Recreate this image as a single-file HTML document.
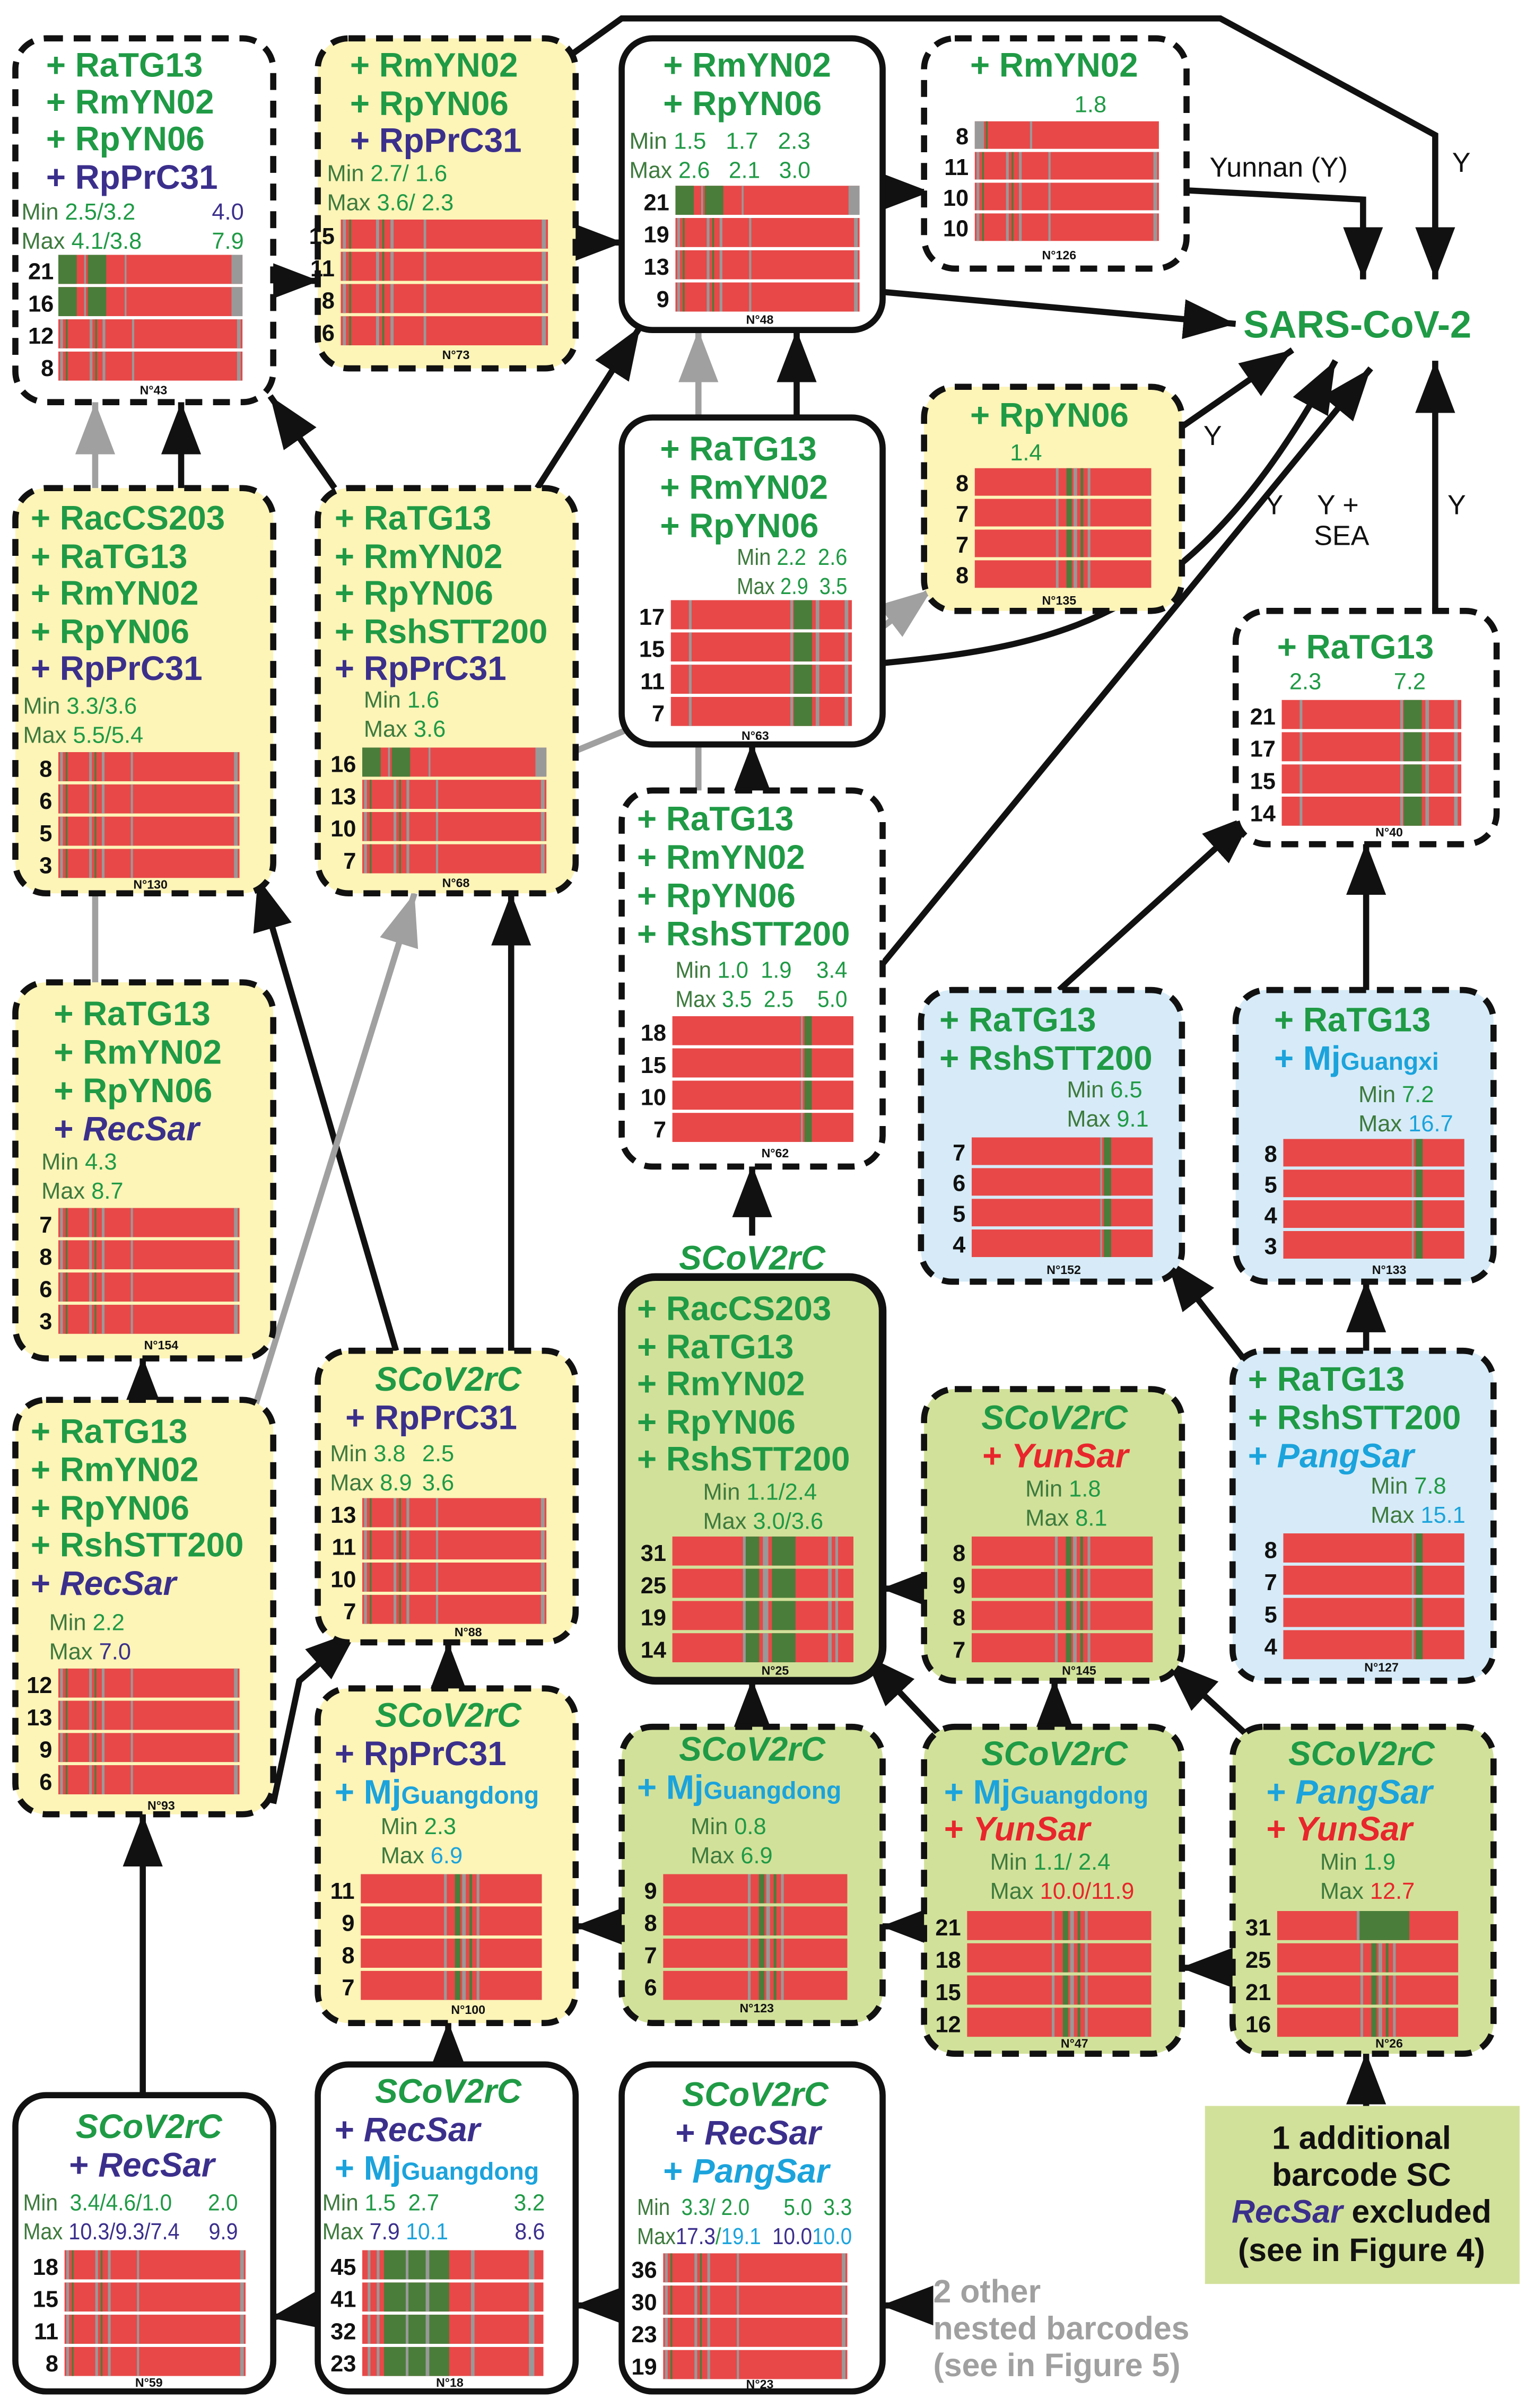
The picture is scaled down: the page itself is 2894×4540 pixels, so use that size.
<!DOCTYPE html>
<html><head><meta charset="utf-8"><style>
html,body{margin:0;padding:0;background:#fff}
svg{display:block}
.t{font-family:"Liberation Sans",sans-serif;font-weight:bold;font-size:22px;fill:#1f9a45}
.sc{font-family:"Liberation Sans",sans-serif;font-weight:bold;font-style:italic;font-size:22px;fill:#1f9a45}
.bl{fill:#3b2f8c}.cy{fill:#1ba3dc}.rd{fill:#e8262b}.it{font-style:italic}
.m{font-family:"Liberation Sans",sans-serif;font-size:15px;fill:#1f9a45}
.mk{fill:#3d7a3d}
.n{font-family:"Liberation Sans",sans-serif;font-weight:bold;font-size:15px;fill:#111;text-anchor:end}
.s{font-family:"Liberation Sans",sans-serif;font-weight:bold;font-size:8px;fill:#111;text-anchor:middle}
.sm{font-size:16px}
.lab{font-family:"Liberation Sans",sans-serif;font-size:18px;fill:#111}
</style></head><body>
<svg width="2894" height="4540" viewBox="0 0 1000 1568.8" xmlns="http://www.w3.org/2000/svg">
<defs>
<marker id="a" markerUnits="userSpaceOnUse" markerWidth="36" markerHeight="28" refX="34" refY="13" orient="auto"><path d="M0,0 L34,13 L0,26 z" fill="#111"/></marker>
<marker id="g" markerUnits="userSpaceOnUse" markerWidth="36" markerHeight="28" refX="34" refY="13" orient="auto"><path d="M0,0 L34,13 L0,26 z" fill="#a0a0a0"/></marker>
<symbol id="bA" viewBox="0 0 100 10" preserveAspectRatio="none"><rect width="100" height="10" fill="#e84848"/><rect x="0" width="10" height="10" fill="#4a7d3a"/><rect x="16" width="10" height="10" fill="#4a7d3a"/><rect x="14" width="1" height="10" fill="#999"/><rect x="36" width="1" height="10" fill="#999"/><rect x="94" width="6" height="10" fill="#999"/></symbol>
<symbol id="bB" viewBox="0 0 100 10" preserveAspectRatio="none"><rect width="100" height="10" fill="#e84848"/><rect x="1" width="1.5" height="10" fill="#999"/><rect x="4" width="1" height="10" fill="#4a7d3a"/><rect x="17" width="1.5" height="10" fill="#999"/><rect x="20" width="1" height="10" fill="#4a7d3a"/><rect x="24" width="1.5" height="10" fill="#999"/><rect x="40" width="1.2" height="10" fill="#999"/><rect x="97" width="2" height="10" fill="#999"/></symbol>
<symbol id="bC" viewBox="0 0 100 10" preserveAspectRatio="none"><rect width="100" height="10" fill="#e84848"/><rect x="40" width="8" height="10" fill="#4a7d3a"/><rect x="39" width="1.5" height="10" fill="#999"/><rect x="50" width="3" height="10" fill="#999"/><rect x="55" width="13" height="10" fill="#4a7d3a"/><rect x="86" width="2" height="10" fill="#999"/><rect x="90" width="1.5" height="10" fill="#999"/></symbol>
<symbol id="bD" viewBox="0 0 100 10" preserveAspectRatio="none"><rect width="100" height="10" fill="#e84848"/><rect x="46" width="1.5" height="10" fill="#999"/><rect x="52" width="3" height="10" fill="#4a7d3a"/><rect x="56" width="2" height="10" fill="#999"/><rect x="60" width="1.5" height="10" fill="#4a7d3a"/><rect x="64" width="1.5" height="10" fill="#999"/></symbol>
<symbol id="bE" viewBox="0 0 100 10" preserveAspectRatio="none"><rect width="100" height="10" fill="#e84848"/><rect x="10" width="1.5" height="10" fill="#999"/><rect x="68" width="10" height="10" fill="#4a7d3a"/><rect x="66" width="1.5" height="10" fill="#999"/><rect x="80" width="2" height="10" fill="#999"/><rect x="96" width="2" height="10" fill="#999"/></symbol>
<symbol id="bF" viewBox="0 0 100 10" preserveAspectRatio="none"><rect width="100" height="10" fill="#e84848"/><rect x="73" width="4" height="10" fill="#4a7d3a"/><rect x="71" width="1" height="10" fill="#999"/></symbol>
<symbol id="bG" viewBox="0 0 100 10" preserveAspectRatio="none"><rect width="100" height="10" fill="#e84848"/><rect x="3" width="1.5" height="10" fill="#999"/><rect x="8" width="1.5" height="10" fill="#999"/><rect x="12" width="36" height="10" fill="#4a7d3a"/><rect x="24" width="1.5" height="10" fill="#999"/><rect x="35" width="2" height="10" fill="#999"/><rect x="60" width="2" height="10" fill="#999"/><rect x="92" width="3" height="10" fill="#999"/></symbol>
<symbol id="bH" viewBox="0 0 100 10" preserveAspectRatio="none"><rect width="100" height="10" fill="#e84848"/><rect x="45" width="28" height="10" fill="#4a7d3a"/><rect x="44" width="1.5" height="10" fill="#999"/></symbol>
<symbol id="bI" viewBox="0 0 100 10" preserveAspectRatio="none"><rect width="100" height="10" fill="#e84848"/><rect x="0" width="5" height="10" fill="#999"/><rect x="6" width="1" height="10" fill="#4a7d3a"/><rect x="30" width="1.2" height="10" fill="#999"/></symbol>
</defs>
<rect width="1000" height="1569" fill="#fff"/>

<!-- connectors -->
<g fill="none" stroke="#111" stroke-width="4">
<line x1="176" y1="183" x2="208" y2="183" marker-end="url(#a)"/>
<line x1="373" y1="158" x2="406" y2="158" marker-end="url(#a)"/>
<line x1="573" y1="125" x2="606" y2="125" marker-end="url(#a)"/>
<line x1="573" y1="190" x2="805" y2="211" marker-end="url(#a)"/>
<polyline points="773,124 888,130 888,182" marker-end="url(#a)"/>
<polyline points="373,35 405,12 795,12 935,88 935,182" marker-end="url(#a)"/>
<line x1="770" y1="278" x2="842" y2="228" marker-end="url(#a)"/>
<path d="M575,432 C700,420 780,400 870,235" marker-end="url(#a)"/>
<line x1="575" y1="628" x2="893" y2="240" marker-end="url(#a)"/>
<line x1="935" y1="398" x2="935" y2="235" marker-end="url(#a)"/>
<line x1="519" y1="272" x2="519" y2="215" marker-end="url(#a)"/>
<line x1="350" y1="318" x2="417" y2="213" marker-end="url(#a)"/>
<line x1="218" y1="318" x2="176" y2="258" marker-end="url(#a)"/>
<line x1="118" y1="318" x2="118" y2="262" marker-end="url(#a)"/>
<line x1="93" y1="912" x2="93" y2="884" marker-end="url(#a)"/>
<line x1="258" y1="880" x2="168" y2="572" marker-end="url(#a)"/>
<line x1="333" y1="880" x2="333" y2="582" marker-end="url(#a)"/>
<line x1="292" y1="1100" x2="292" y2="1070" marker-end="url(#a)"/>
<polyline points="178,1175 195,1095 233,1062" marker-end="url(#a)"/>
<line x1="93" y1="1365" x2="93" y2="1182" marker-end="url(#a)"/>
<line x1="207" y1="1505" x2="176" y2="1510" marker-end="url(#a)"/>
<line x1="405" y1="1502" x2="374" y2="1502" marker-end="url(#a)"/>
<line x1="605" y1="1502" x2="574" y2="1502" marker-end="url(#a)"/>
<line x1="292" y1="1345" x2="292" y2="1317" marker-end="url(#a)"/>
<line x1="405" y1="1255" x2="374" y2="1255" marker-end="url(#a)"/>
<line x1="602" y1="1255" x2="574" y2="1255" marker-end="url(#a)"/>
<line x1="803" y1="1282" x2="769" y2="1282" marker-end="url(#a)"/>
<line x1="890" y1="1372" x2="890" y2="1337" marker-end="url(#a)"/>
<line x1="490" y1="1125" x2="490" y2="1094" marker-end="url(#a)"/>
<line x1="687" y1="1125" x2="687" y2="1094" marker-end="url(#a)"/>
<line x1="612" y1="1130" x2="563" y2="1078" marker-end="url(#a)"/>
<line x1="602" y1="1035" x2="574" y2="1035" marker-end="url(#a)"/>
<line x1="812" y1="1130" x2="760" y2="1082" marker-end="url(#a)"/>
<line x1="810" y1="885" x2="760" y2="820" marker-end="url(#a)"/>
<line x1="890" y1="880" x2="890" y2="834" marker-end="url(#a)"/>
<line x1="490" y1="805" x2="490" y2="759" marker-end="url(#a)"/>
<line x1="690" y1="645" x2="817" y2="530" marker-end="url(#a)"/>
<line x1="890" y1="645" x2="890" y2="549" marker-end="url(#a)"/>
<line x1="490" y1="515" x2="490" y2="484" marker-end="url(#a)"/>
</g>
<g fill="none" stroke="#a0a0a0" stroke-width="4">
<line x1="62" y1="318" x2="62" y2="262" marker-end="url(#g)"/>
<line x1="62" y1="640" x2="62" y2="582"/>
<line x1="373" y1="490" x2="407" y2="476"/>
<line x1="455" y1="272" x2="455" y2="215" marker-end="url(#g)"/>
<line x1="455" y1="485" x2="455" y2="515"/>
<line x1="573" y1="410" x2="607" y2="384" marker-end="url(#g)"/>
<line x1="165" y1="920" x2="270" y2="582" marker-end="url(#g)"/>
</g>
<g class="lab">
<text x="788" y="115">Yunnan (Y)</text>
<text x="946" y="112">Y</text>
<text x="784" y="290">Y</text>
<text x="824" y="335">Y</text>
<text x="858" y="335">Y +</text>
<text x="856" y="355">SEA</text>
<text x="943" y="335">Y</text>
</g>
<text x="810" y="220" class="t" style="font-size:25px">SARS-CoV-2</text>

<!-- nodes -->
<g stroke="#111" stroke-width="4">
<rect x="10" y="25" width="168" height="237" rx="20" fill="#fff" stroke-dasharray="11 7"/>
<rect x="207" y="25" width="168" height="215" rx="20" fill="#fdf4b8" stroke-dasharray="11 7"/>
<rect x="405" y="25" width="170" height="190" rx="20" fill="#fff"/>
<rect x="602" y="25" width="171" height="150" rx="20" fill="#fff" stroke-dasharray="11 7"/>
<rect x="602" y="252" width="168" height="146" rx="20" fill="#fdf4b8" stroke-dasharray="11 7"/>
<rect x="405" y="272" width="170" height="213" rx="20" fill="#fff"/>
<rect x="10" y="318" width="168" height="264" rx="20" fill="#fdf4b8" stroke-dasharray="11 7"/>
<rect x="207" y="318" width="168" height="264" rx="20" fill="#fdf4b8" stroke-dasharray="11 7"/>
<rect x="805" y="398" width="170" height="152" rx="20" fill="#fff" stroke-dasharray="11 7"/>
<rect x="405" y="515" width="170" height="245" rx="20" fill="#fff" stroke-dasharray="11 7"/>
<rect x="10" y="640" width="168" height="245" rx="20" fill="#fdf4b8" stroke-dasharray="11 7"/>
<rect x="600" y="645" width="170" height="190" rx="20" fill="#d6ebf7" stroke-dasharray="11 7"/>
<rect x="805" y="645" width="168" height="190" rx="20" fill="#d6ebf7" stroke-dasharray="11 7"/>
<rect x="405" y="832" width="170" height="263" rx="22" fill="#d2e19a" stroke-width="5"/>
<rect x="10" y="912" width="168" height="270" rx="20" fill="#fdf4b8" stroke-dasharray="11 7"/>
<rect x="207" y="880" width="168" height="190" rx="20" fill="#fdf4b8" stroke-dasharray="11 7"/>
<rect x="602" y="905" width="168" height="190" rx="20" fill="#d2e19a" stroke-dasharray="11 7"/>
<rect x="803" y="880" width="170" height="215" rx="20" fill="#d6ebf7" stroke-dasharray="11 7"/>
<rect x="207" y="1100" width="168" height="218" rx="20" fill="#fdf4b8" stroke-dasharray="11 7"/>
<rect x="405" y="1125" width="170" height="193" rx="20" fill="#d2e19a" stroke-dasharray="11 7"/>
<rect x="602" y="1125" width="168" height="213" rx="20" fill="#d2e19a" stroke-dasharray="11 7"/>
<rect x="803" y="1125" width="170" height="213" rx="20" fill="#d2e19a" stroke-dasharray="11 7"/>
<rect x="10" y="1365" width="168" height="193" rx="20" fill="#fff"/>
<rect x="207" y="1345" width="168" height="213" rx="20" fill="#fff"/>
<rect x="405" y="1345" width="170" height="213" rx="20" fill="#fff"/>
</g>
<rect x="785" y="1372" width="205" height="116" fill="#d2e19a"/>
<g font-family="Liberation Sans,sans-serif" font-weight="bold" font-size="21" text-anchor="middle" fill="#111">
<text x="887" y="1400">1 additional</text>
<text x="887" y="1424">barcode SC</text>
<text x="887" y="1448"><tspan class="bl" font-style="italic">RecSar</tspan> excluded</text>
<text x="887" y="1473">(see in Figure 4)</text>
</g>
<g font-family="Liberation Sans,sans-serif" font-weight="bold" font-size="21" fill="#a0a0a0">
<text x="608" y="1500">2 other</text>
<text x="608" y="1524">nested barcodes</text>
<text x="608" y="1548">(see in Figure 5)</text>
</g>

<!-- N43 -->
<text class="t" x="30" y="50">+ RaTG13</text><text class="t" x="30" y="74">+ RmYN02</text><text class="t" x="30" y="98">+ RpYN06</text><text class="t bl" x="30" y="123">+ RpPrC31</text>
<text class="m" x="14" y="143"><tspan class="mk">Min</tspan> 2.5/3.2 <tspan x="138" class="bl">4.0</tspan></text>
<text class="m" x="14" y="162"><tspan class="mk">Max</tspan> 4.1/3.8 <tspan x="138">7.9</tspan></text>
<use href="#bA" x="38" y="166" width="120" height="19"/><use href="#bA" x="38" y="187" width="120" height="19"/><use href="#bB" x="38" y="208" width="120" height="19"/><use href="#bB" x="38" y="229" width="120" height="19"/>
<text class="n" x="35" y="182">21</text><text class="n" x="35" y="203">16</text><text class="n" x="35" y="224">12</text><text class="n" x="35" y="245">8</text>
<text class="s" x="100" y="257">N°43</text>
<!-- N73 -->
<text class="t" x="228" y="50">+ RmYN02</text><text class="t" x="228" y="75">+ RpYN06</text><text class="t bl" x="228" y="99">+ RpPrC31</text>
<text class="m" x="213" y="118"><tspan class="mk">Min</tspan> 2.7/ 1.6</text><text class="m" x="213" y="137"><tspan class="mk">Max</tspan> 3.6/ 2.3</text>
<use href="#bB" x="222" y="143" width="135" height="19"/><use href="#bB" x="222" y="164" width="135" height="19"/><use href="#bB" x="222" y="185" width="135" height="19"/><use href="#bB" x="222" y="206" width="135" height="19"/>
<text class="n" x="218" y="159">15</text><text class="n" x="218" y="180">11</text><text class="n" x="218" y="201">8</text><text class="n" x="218" y="222">6</text>
<text class="s" x="297" y="234">N°73</text>
<!-- N48 -->
<text class="t" x="432" y="50">+ RmYN02</text><text class="t" x="432" y="75">+ RpYN06</text>
<text class="m" x="410" y="97" textLength="118" lengthAdjust="spacingAndGlyphs" xml:space="preserve"><tspan class="mk">Min</tspan> 1.5   1.7   2.3</text>
<text class="m" x="410" y="116" textLength="118" lengthAdjust="spacingAndGlyphs" xml:space="preserve"><tspan class="mk">Max</tspan> 2.6   2.1   3.0</text>
<use href="#bA" x="440" y="121" width="120" height="19"/><use href="#bB" x="440" y="142" width="120" height="19"/><use href="#bB" x="440" y="163" width="120" height="19"/><use href="#bB" x="440" y="184" width="120" height="19"/>
<text class="n" x="436" y="137">21</text><text class="n" x="436" y="158">19</text><text class="n" x="436" y="179">13</text><text class="n" x="436" y="200">9</text>
<text class="s" x="495" y="211">N°48</text>
<!-- N126 -->
<text class="t" x="632" y="50">+ RmYN02</text><text class="m" x="700" y="73">1.8</text>
<use href="#bI" x="635" y="79" width="120" height="18"/><use href="#bB" x="635" y="99" width="120" height="18"/><use href="#bB" x="635" y="119" width="120" height="18"/><use href="#bB" x="635" y="139" width="120" height="18"/>
<text class="n" x="631" y="94">8</text><text class="n" x="631" y="114">11</text><text class="n" x="631" y="134">10</text><text class="n" x="631" y="154">10</text>
<text class="s" x="690" y="169">N°126</text>
<!-- N135 -->
<text class="t" x="632" y="278">+ RpYN06</text><text class="m" x="658" y="300">1.4</text>
<use href="#bD" x="635" y="305" width="115" height="18"/><use href="#bD" x="635" y="325" width="115" height="18"/><use href="#bD" x="635" y="345" width="115" height="18"/><use href="#bD" x="635" y="365" width="115" height="18"/>
<text class="n" x="631" y="320">8</text><text class="n" x="631" y="340">7</text><text class="n" x="631" y="360">7</text><text class="n" x="631" y="380">8</text>
<text class="s" x="690" y="394">N°135</text>
<!-- N63 -->
<text class="t" x="430" y="300">+ RaTG13</text><text class="t" x="430" y="325">+ RmYN02</text><text class="t" x="430" y="350">+ RpYN06</text>
<text class="m" x="480" y="368" textLength="72" lengthAdjust="spacingAndGlyphs" xml:space="preserve"><tspan class="mk">Min</tspan> 2.2  2.6</text>
<text class="m" x="480" y="387" textLength="72" lengthAdjust="spacingAndGlyphs" xml:space="preserve"><tspan class="mk">Max</tspan> 2.9  3.5</text>
<use href="#bE" x="437" y="391" width="118" height="19"/><use href="#bE" x="437" y="412" width="118" height="19"/><use href="#bE" x="437" y="433" width="118" height="19"/><use href="#bE" x="437" y="454" width="118" height="19"/>
<text class="n" x="433" y="407">17</text><text class="n" x="433" y="428">15</text><text class="n" x="433" y="449">11</text><text class="n" x="433" y="470">7</text>
<text class="s" x="492" y="482">N°63</text>
<!-- N130 -->
<text class="t" x="20" y="345">+ RacCS203</text><text class="t" x="20" y="370">+ RaTG13</text><text class="t" x="20" y="394">+ RmYN02</text><text class="t" x="20" y="419">+ RpYN06</text><text class="t bl" x="20" y="443">+ RpPrC31</text>
<text class="m" x="15" y="465"><tspan class="mk">Min</tspan> 3.3/3.6</text><text class="m" x="15" y="484"><tspan class="mk">Max</tspan> 5.5/5.4</text>
<use href="#bB" x="38" y="490" width="118" height="19"/><use href="#bB" x="38" y="511" width="118" height="19"/><use href="#bB" x="38" y="532" width="118" height="19"/><use href="#bB" x="38" y="553" width="118" height="19"/>
<text class="n" x="34" y="506">8</text><text class="n" x="34" y="527">6</text><text class="n" x="34" y="548">5</text><text class="n" x="34" y="569">3</text>
<text class="s" x="98" y="579">N°130</text>
<!-- N68 -->
<text class="t" x="218" y="345">+ RaTG13</text><text class="t" x="218" y="370">+ RmYN02</text><text class="t" x="218" y="394">+ RpYN06</text><text class="t" x="218" y="419">+ RshSTT200</text><text class="t bl" x="218" y="443">+ RpPrC31</text>
<text class="m" x="237" y="461"><tspan class="mk">Min</tspan> 1.6</text><text class="m" x="237" y="480"><tspan class="mk">Max</tspan> 3.6</text>
<use href="#bA" x="236" y="487" width="120" height="19"/><use href="#bB" x="236" y="508" width="120" height="19"/><use href="#bB" x="236" y="529" width="120" height="19"/><use href="#bB" x="236" y="550" width="120" height="19"/>
<text class="n" x="232" y="503">16</text><text class="n" x="232" y="524">13</text><text class="n" x="232" y="545">10</text><text class="n" x="232" y="566">7</text>
<text class="s" x="297" y="578">N°68</text>
<!-- N40 -->
<text class="t" x="832" y="429">+ RaTG13</text><text class="m" x="840" y="449">2.3 <tspan x="908">7.2</tspan></text>
<use href="#bE" x="835" y="456" width="117" height="19"/><use href="#bE" x="835" y="477" width="117" height="19"/><use href="#bE" x="835" y="498" width="117" height="19"/><use href="#bE" x="835" y="519" width="117" height="19"/>
<text class="n" x="831" y="472">21</text><text class="n" x="831" y="493">17</text><text class="n" x="831" y="514">15</text><text class="n" x="831" y="535">14</text>
<text class="s" x="905" y="545">N°40</text>
<!-- N62 -->
<text class="t" x="415" y="541">+ RaTG13</text><text class="t" x="415" y="566">+ RmYN02</text><text class="t" x="415" y="591">+ RpYN06</text><text class="t" x="415" y="616">+ RshSTT200</text>
<text class="m" x="440" y="637" textLength="112" lengthAdjust="spacingAndGlyphs" xml:space="preserve"><tspan class="mk">Min</tspan> 1.0  1.9    3.4</text>
<text class="m" x="440" y="656" textLength="112" lengthAdjust="spacingAndGlyphs" xml:space="preserve"><tspan class="mk">Max</tspan> 3.5  2.5    5.0</text>
<use href="#bF" x="438" y="662" width="118" height="19"/><use href="#bF" x="438" y="683" width="118" height="19"/><use href="#bF" x="438" y="704" width="118" height="19"/><use href="#bF" x="438" y="725" width="118" height="19"/>
<text class="n" x="434" y="678">18</text><text class="n" x="434" y="699">15</text><text class="n" x="434" y="720">10</text><text class="n" x="434" y="741">7</text>
<text class="s" x="505" y="754">N°62</text>
<!-- N154 -->
<text class="t" x="35" y="668">+ RaTG13</text><text class="t" x="35" y="693">+ RmYN02</text><text class="t" x="35" y="718">+ RpYN06</text><text class="t bl" x="35" y="743">+ <tspan class="it">RecSar</tspan></text>
<text class="m" x="27" y="762"><tspan class="mk">Min</tspan> 4.3</text><text class="m" x="27" y="781"><tspan class="mk">Max</tspan> 8.7</text>
<use href="#bB" x="38" y="787" width="118" height="19"/><use href="#bB" x="38" y="808" width="118" height="19"/><use href="#bB" x="38" y="829" width="118" height="19"/><use href="#bB" x="38" y="850" width="118" height="19"/>
<text class="n" x="34" y="803">7</text><text class="n" x="34" y="824">8</text><text class="n" x="34" y="845">6</text><text class="n" x="34" y="866">3</text>
<text class="s" x="105" y="879">N°154</text>
<!-- N152 -->
<text class="t" x="612" y="672">+ RaTG13</text><text class="t" x="612" y="697">+ RshSTT200</text>
<text class="m" x="695" y="715"><tspan class="mk">Min</tspan> 6.5</text><text class="m" x="695" y="734"><tspan class="mk">Max</tspan> 9.1</text>
<use href="#bF" x="633" y="741" width="118" height="18"/><use href="#bF" x="633" y="761" width="118" height="18"/><use href="#bF" x="633" y="781" width="118" height="18"/><use href="#bF" x="633" y="801" width="118" height="18"/>
<text class="n" x="629" y="756">7</text><text class="n" x="629" y="776">6</text><text class="n" x="629" y="796">5</text><text class="n" x="629" y="816">4</text>
<text class="s" x="693" y="830">N°152</text>
<!-- N133 -->
<text class="t" x="830" y="672">+ RaTG13</text><text class="t cy" x="830" y="697">+ Mj<tspan class="sm">Guangxi</tspan></text>
<text class="m" x="885" y="718"><tspan class="mk">Min</tspan> 7.2</text><text class="m" x="885" y="737"><tspan class="mk">Max</tspan> <tspan class="cy">16.7</tspan></text>
<use href="#bF" x="836" y="742" width="118" height="18"/><use href="#bF" x="836" y="762" width="118" height="18"/><use href="#bF" x="836" y="782" width="118" height="18"/><use href="#bF" x="836" y="802" width="118" height="18"/>
<text class="n" x="832" y="757">8</text><text class="n" x="832" y="777">5</text><text class="n" x="832" y="797">4</text><text class="n" x="832" y="817">3</text>
<text class="s" x="905" y="830">N°133</text>
<!-- N25 -->
<text class="sc" x="490" y="827" text-anchor="middle">SCoV2rC</text>
<text class="t" x="415" y="860">+ RacCS203</text><text class="t" x="415" y="885">+ RaTG13</text><text class="t" x="415" y="909">+ RmYN02</text><text class="t" x="415" y="934">+ RpYN06</text><text class="t" x="415" y="958">+ RshSTT200</text>
<text class="m" x="458" y="977"><tspan class="mk">Min</tspan> 1.1/2.4</text><text class="m" x="458" y="996"><tspan class="mk">Max</tspan> 3.0/3.6</text>
<use href="#bC" x="438" y="1001" width="118" height="19"/><use href="#bC" x="438" y="1022" width="118" height="19"/><use href="#bC" x="438" y="1043" width="118" height="19"/><use href="#bC" x="438" y="1064" width="118" height="19"/>
<text class="n" x="434" y="1017">31</text><text class="n" x="434" y="1038">25</text><text class="n" x="434" y="1059">19</text><text class="n" x="434" y="1080">14</text>
<text class="s" x="505" y="1091">N°25</text>
<!-- N93 -->
<text class="t" x="20" y="940">+ RaTG13</text><text class="t" x="20" y="965">+ RmYN02</text><text class="t" x="20" y="990">+ RpYN06</text><text class="t" x="20" y="1014">+ RshSTT200</text><text class="t bl" x="20" y="1039">+ <tspan class="it">RecSar</tspan></text>
<text class="m" x="32" y="1062"><tspan class="mk">Min</tspan> 2.2</text><text class="m" x="32" y="1081"><tspan class="mk">Max</tspan> <tspan class="bl">7.0</tspan></text>
<use href="#bB" x="38" y="1087" width="118" height="19"/><use href="#bB" x="38" y="1108" width="118" height="19"/><use href="#bB" x="38" y="1129" width="118" height="19"/><use href="#bB" x="38" y="1150" width="118" height="19"/>
<text class="n" x="34" y="1103">12</text><text class="n" x="34" y="1124">13</text><text class="n" x="34" y="1145">9</text><text class="n" x="34" y="1166">6</text>
<text class="s" x="105" y="1179">N°93</text>
<!-- N88 -->
<text class="sc" x="292" y="906" text-anchor="middle">SCoV2rC</text><text class="t bl" x="225" y="931">+ RpPrC31</text>
<text class="m" x="215" y="952"><tspan class="mk">Min</tspan> 3.8 <tspan x="275">2.5</tspan></text><text class="m" x="215" y="971"><tspan class="mk">Max</tspan> 8.9 <tspan x="275">3.6</tspan></text>
<use href="#bB" x="236" y="976" width="120" height="19"/><use href="#bB" x="236" y="997" width="120" height="19"/><use href="#bB" x="236" y="1018" width="120" height="19"/><use href="#bB" x="236" y="1039" width="120" height="19"/>
<text class="n" x="232" y="992">13</text><text class="n" x="232" y="1013">11</text><text class="n" x="232" y="1034">10</text><text class="n" x="232" y="1055">7</text>
<text class="s" x="305" y="1066">N°88</text>
<!-- N145 -->
<text class="sc" x="687" y="931" text-anchor="middle">SCoV2rC</text><text class="t rd" x="640" y="956">+ <tspan class="it">YunSar</tspan></text>
<text class="m" x="668" y="975"><tspan class="mk">Min</tspan> 1.8</text><text class="m" x="668" y="994"><tspan class="mk">Max</tspan> 8.1</text>
<use href="#bD" x="633" y="1001" width="118" height="19"/><use href="#bD" x="633" y="1022" width="118" height="19"/><use href="#bD" x="633" y="1043" width="118" height="19"/><use href="#bD" x="633" y="1064" width="118" height="19"/>
<text class="n" x="629" y="1017">8</text><text class="n" x="629" y="1038">9</text><text class="n" x="629" y="1059">8</text><text class="n" x="629" y="1080">7</text>
<text class="s" x="703" y="1091">N°145</text>
<!-- N127 -->
<text class="t" x="813" y="906">+ RaTG13</text><text class="t" x="813" y="931">+ RshSTT200</text><text class="t cy" x="813" y="956">+ <tspan class="it">PangSar</tspan></text>
<text class="m" x="893" y="973"><tspan class="mk">Min</tspan> 7.8</text><text class="m" x="893" y="992"><tspan class="mk">Max</tspan> <tspan class="cy">15.1</tspan></text>
<use href="#bF" x="836" y="999" width="118" height="19"/><use href="#bF" x="836" y="1020" width="118" height="19"/><use href="#bF" x="836" y="1041" width="118" height="19"/><use href="#bF" x="836" y="1062" width="118" height="19"/>
<text class="n" x="832" y="1015">8</text><text class="n" x="832" y="1036">7</text><text class="n" x="832" y="1057">5</text><text class="n" x="832" y="1078">4</text>
<text class="s" x="900" y="1089">N°127</text>
<!-- N100 -->
<text class="sc" x="292" y="1125" text-anchor="middle">SCoV2rC</text><text class="t bl" x="218" y="1150">+ RpPrC31</text><text class="t cy" x="218" y="1175">+ Mj<tspan class="sm">Guangdong</tspan></text>
<text class="m" x="248" y="1195"><tspan class="mk">Min</tspan> 2.3</text><text class="m" x="248" y="1214"><tspan class="mk">Max</tspan> <tspan class="cy">6.9</tspan></text>
<use href="#bD" x="235" y="1221" width="118" height="19"/><use href="#bD" x="235" y="1242" width="118" height="19"/><use href="#bD" x="235" y="1263" width="118" height="19"/><use href="#bD" x="235" y="1284" width="118" height="19"/>
<text class="n" x="231" y="1237">11</text><text class="n" x="231" y="1258">9</text><text class="n" x="231" y="1279">8</text><text class="n" x="231" y="1300">7</text>
<text class="s" x="305" y="1312">N°100</text>
<!-- N123 -->
<text class="sc" x="490" y="1147" text-anchor="middle">SCoV2rC</text><text class="t cy" x="415" y="1172">+ Mj<tspan class="sm">Guangdong</tspan></text>
<text class="m" x="450" y="1195"><tspan class="mk">Min</tspan> 0.8</text><text class="m" x="450" y="1214"><tspan class="mk">Max</tspan> 6.9</text>
<use href="#bD" x="432" y="1221" width="120" height="19"/><use href="#bD" x="432" y="1242" width="120" height="19"/><use href="#bD" x="432" y="1263" width="120" height="19"/><use href="#bD" x="432" y="1284" width="120" height="19"/>
<text class="n" x="428" y="1237">9</text><text class="n" x="428" y="1258">8</text><text class="n" x="428" y="1279">7</text><text class="n" x="428" y="1300">6</text>
<text class="s" x="493" y="1311">N°123</text>
<!-- N47 -->
<text class="sc" x="687" y="1150" text-anchor="middle">SCoV2rC</text><text class="t cy" x="615" y="1175">+ Mj<tspan class="sm">Guangdong</tspan></text><text class="t rd" x="615" y="1199">+ <tspan class="it">YunSar</tspan></text>
<text class="m" x="645" y="1218"><tspan class="mk">Min</tspan> 1.1/ 2.4</text><text class="m" x="645" y="1237"><tspan class="mk">Max</tspan> <tspan class="rd">10.0/11.9</tspan></text>
<use href="#bD" x="630" y="1245" width="120" height="19"/><use href="#bD" x="630" y="1266" width="120" height="19"/><use href="#bD" x="630" y="1287" width="120" height="19"/><use href="#bD" x="630" y="1308" width="120" height="19"/>
<text class="n" x="626" y="1261">21</text><text class="n" x="626" y="1282">18</text><text class="n" x="626" y="1303">15</text><text class="n" x="626" y="1324">12</text>
<text class="s" x="700" y="1334">N°47</text>
<!-- N26 -->
<text class="sc" x="887" y="1150" text-anchor="middle">SCoV2rC</text><text class="t cy" x="825" y="1175">+ <tspan class="it">PangSar</tspan></text><text class="t rd" x="825" y="1199">+ <tspan class="it">YunSar</tspan></text>
<text class="m" x="860" y="1218"><tspan class="mk">Min</tspan> 1.9</text><text class="m" x="860" y="1237"><tspan class="mk">Max</tspan> <tspan class="rd">12.7</tspan></text>
<use href="#bH" x="832" y="1245" width="118" height="19"/><use href="#bD" x="832" y="1266" width="118" height="19"/><use href="#bD" x="832" y="1287" width="118" height="19"/><use href="#bD" x="832" y="1308" width="118" height="19"/>
<text class="n" x="828" y="1261">31</text><text class="n" x="828" y="1282">25</text><text class="n" x="828" y="1303">21</text><text class="n" x="828" y="1324">16</text>
<text class="s" x="905" y="1334">N°26</text>
<!-- N59 -->
<text class="sc" x="97" y="1393" text-anchor="middle">SCoV2rC</text><text class="t bl" x="45" y="1418">+ <tspan class="it">RecSar</tspan></text>
<text class="m" x="15" y="1440" textLength="140" lengthAdjust="spacingAndGlyphs" xml:space="preserve"><tspan class="mk">Min</tspan>  3.4/4.6/1.0      2.0</text>
<text class="m" x="15" y="1459" textLength="140" lengthAdjust="spacingAndGlyphs" xml:space="preserve"><tspan class="mk">Max</tspan> <tspan class="bl">10.3/9.3/7.4     9.9</tspan></text>
<use href="#bB" x="42" y="1466" width="118" height="19"/><use href="#bB" x="42" y="1487" width="118" height="19"/><use href="#bB" x="42" y="1508" width="118" height="19"/><use href="#bB" x="42" y="1529" width="118" height="19"/>
<text class="n" x="38" y="1482">18</text><text class="n" x="38" y="1503">15</text><text class="n" x="38" y="1524">11</text><text class="n" x="38" y="1545">8</text>
<text class="s" x="97" y="1555">N°59</text>
<!-- N18 -->
<text class="sc" x="292" y="1370" text-anchor="middle">SCoV2rC</text><text class="t bl" x="218" y="1395">+ <tspan class="it">RecSar</tspan></text><text class="t cy" x="218" y="1420">+ Mj<tspan class="sm">Guangdong</tspan></text>
<text class="m" x="210" y="1440" textLength="145" lengthAdjust="spacingAndGlyphs" xml:space="preserve"><tspan class="mk">Min</tspan> 1.5  2.7            3.2</text>
<text class="m" x="210" y="1459" textLength="145" lengthAdjust="spacingAndGlyphs" xml:space="preserve"><tspan class="mk">Max</tspan> <tspan class="bl">7.9</tspan> <tspan class="cy">10.1</tspan>           <tspan class="bl">8.6</tspan></text>
<use href="#bG" x="236" y="1466" width="118" height="19"/><use href="#bG" x="236" y="1487" width="118" height="19"/><use href="#bG" x="236" y="1508" width="118" height="19"/><use href="#bG" x="236" y="1529" width="118" height="19"/>
<text class="n" x="232" y="1482">45</text><text class="n" x="232" y="1503">41</text><text class="n" x="232" y="1524">32</text><text class="n" x="232" y="1545">23</text>
<text class="s" x="293" y="1555">N°18</text>
<!-- N23 -->
<text class="sc" x="492" y="1372" text-anchor="middle">SCoV2rC</text><text class="t bl" x="440" y="1397">+ <tspan class="it">RecSar</tspan></text><text class="t cy" x="432" y="1422">+ <tspan class="it">PangSar</tspan></text>
<text class="m" x="415" y="1443" textLength="140" lengthAdjust="spacingAndGlyphs" xml:space="preserve"><tspan class="mk">Min</tspan>  3.3/ 2.0      5.0  3.3</text>
<text class="m" x="415" y="1462" textLength="140" lengthAdjust="spacingAndGlyphs" xml:space="preserve"><tspan class="mk">Max</tspan><tspan class="bl">17.3</tspan>/<tspan class="cy">19.1</tspan>  <tspan class="bl">10.0</tspan><tspan class="cy">10.0</tspan></text>
<use href="#bB" x="432" y="1468" width="120" height="19"/><use href="#bB" x="432" y="1489" width="120" height="19"/><use href="#bB" x="432" y="1510" width="120" height="19"/><use href="#bB" x="432" y="1531" width="120" height="19"/>
<text class="n" x="428" y="1484">36</text><text class="n" x="428" y="1505">30</text><text class="n" x="428" y="1526">23</text><text class="n" x="428" y="1547">19</text>
<text class="s" x="495" y="1556">N°23</text>
</svg>
</body></html>
